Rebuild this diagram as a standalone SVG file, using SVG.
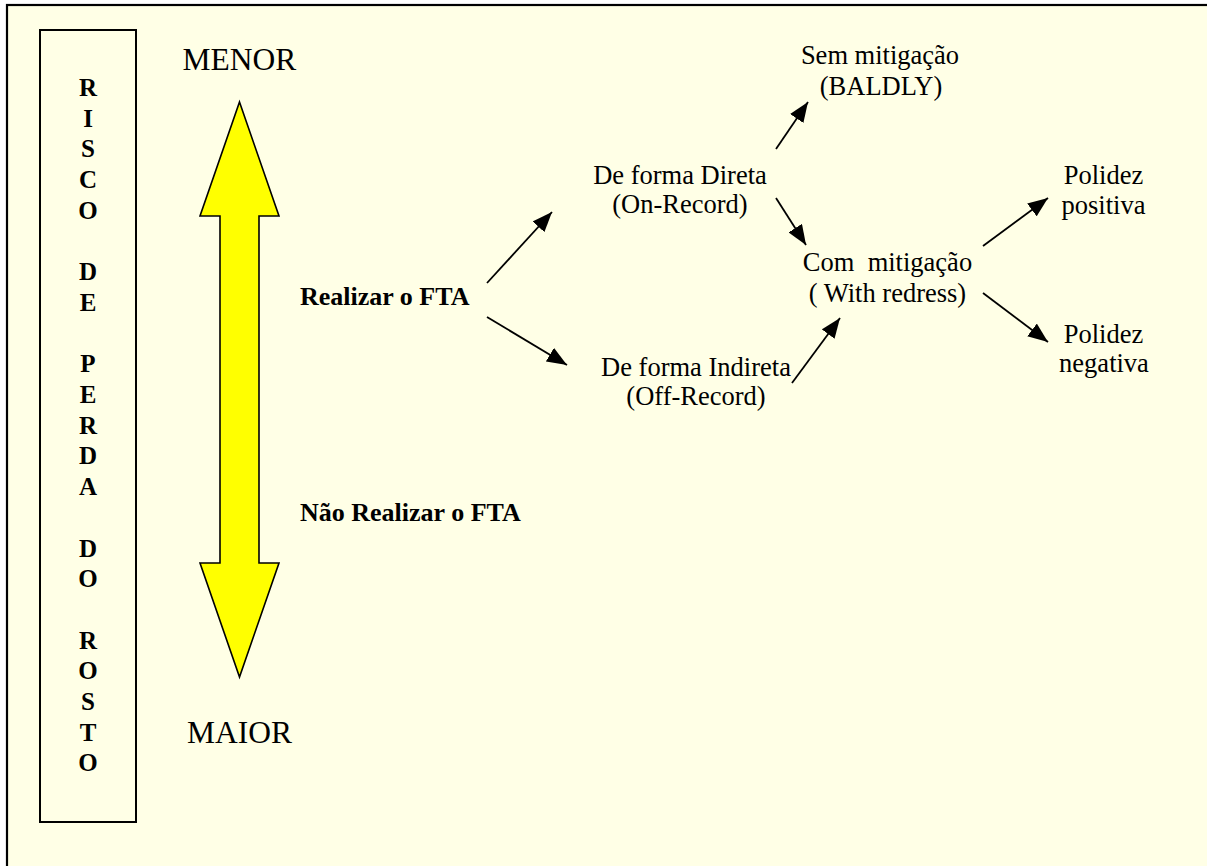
<svg xmlns="http://www.w3.org/2000/svg" width="1207" height="866" viewBox="0 0 1207 866">
<defs>
<style>
.t{font-family:"Liberation Serif","Times New Roman",serif;font-size:26.5px;fill:#000;text-anchor:middle;white-space:pre}
.b{font-family:"Liberation Serif","Times New Roman",serif;font-size:26px;font-weight:bold;fill:#000}
.big{font-family:"Liberation Serif","Times New Roman",serif;font-size:31.5px;fill:#000;text-anchor:middle}
.v{font-family:"Liberation Serif","Times New Roman",serif;font-size:25px;font-weight:bold;fill:#000;text-anchor:middle}
.c{stroke:#000;stroke-width:1.8;fill:none;marker-end:url(#ah)}
</style>
<marker id="ah" markerUnits="userSpaceOnUse" markerWidth="22" markerHeight="16" refX="20" refY="8" orient="auto" viewBox="0 0 22 16">
<path d="M0,0 L20,8 L0,16 z" fill="#000"/>
</marker>
</defs>
<rect x="0" y="0" width="1207" height="866" fill="#fff"/>
<rect id="frame" x="7" y="5" width="1215" height="880" fill="#FFFFE6" stroke="#000" stroke-width="2.2"/>
<g id="risco">
<rect x="40" y="30" width="96" height="792" fill="none" stroke="#000" stroke-width="2"/>
<text class="v" x="88" y="96">R</text>
<text class="v" x="88" y="126.7">I</text>
<text class="v" x="88" y="157.4">S</text>
<text class="v" x="88" y="188.1">C</text>
<text class="v" x="88" y="218.8">O</text>
<text class="v" x="88" y="280.2">D</text>
<text class="v" x="88" y="310.9">E</text>
<text class="v" x="88" y="372.3">P</text>
<text class="v" x="88" y="403">E</text>
<text class="v" x="88" y="433.7">R</text>
<text class="v" x="88" y="464.4">D</text>
<text class="v" x="88" y="495.1">A</text>
<text class="v" x="88" y="556.5">D</text>
<text class="v" x="88" y="587.2">O</text>
<text class="v" x="88" y="648.6">R</text>
<text class="v" x="88" y="679.3">O</text>
<text class="v" x="88" y="710">S</text>
<text class="v" x="88" y="740.7">T</text>
<text class="v" x="88" y="771.4">O</text>
</g>
<g id="escala">
<polygon points="239.5,102 279,216 259,216 259,563 279,563 239.5,677 200,563 220,563 220,216 200,216" fill="#FFFF00" stroke="#000" stroke-width="1.6" stroke-linejoin="miter"/>
</g>
<g id="menor"><text class="big" x="239.5" y="70">MENOR</text></g>
<g id="maior"><text class="big" x="239.5" y="743">MAIOR</text></g>
<g id="realizar"><text class="b" x="300" y="305">Realizar o FTA</text></g>
<g id="nao-realizar"><text class="b" x="300" y="521">Não Realizar o FTA</text></g>
<g id="direta"><text class="t" x="680" y="184">De forma Direta</text><text class="t" x="680" y="213">(On-Record)</text></g>
<g id="indireta"><text class="t" x="696" y="376">De forma Indireta</text><text class="t" x="696" y="405">(Off-Record)</text></g>
<g id="sem"><text class="t" x="880" y="64">Sem mitigação</text><text class="t" x="881" y="95">(BALDLY)</text></g>
<g id="com"><text class="t" x="887.5" y="271">Com  mitigação</text><text class="t" x="887.5" y="302">( With redress)</text></g>
<g id="positiva"><text class="t" x="1103.5" y="184">Polidez</text><text class="t" x="1103.5" y="214">positiva</text></g>
<g id="negativa"><text class="t" x="1103.5" y="343">Polidez</text><text class="t" x="1104" y="372">negativa</text></g>
<g id="connectors">
<line class="c" x1="487" y1="283" x2="552" y2="212"/>
<line class="c" x1="487" y1="317" x2="567" y2="365"/>
<line class="c" x1="776" y1="198" x2="806" y2="245"/>
<line class="c" x1="776" y1="149" x2="808" y2="102"/>
<line class="c" x1="792" y1="383" x2="840" y2="318"/>
<line class="c" x1="983" y1="246" x2="1048" y2="198"/>
<line class="c" x1="983" y1="293" x2="1048" y2="342"/>
</g>
</svg>
